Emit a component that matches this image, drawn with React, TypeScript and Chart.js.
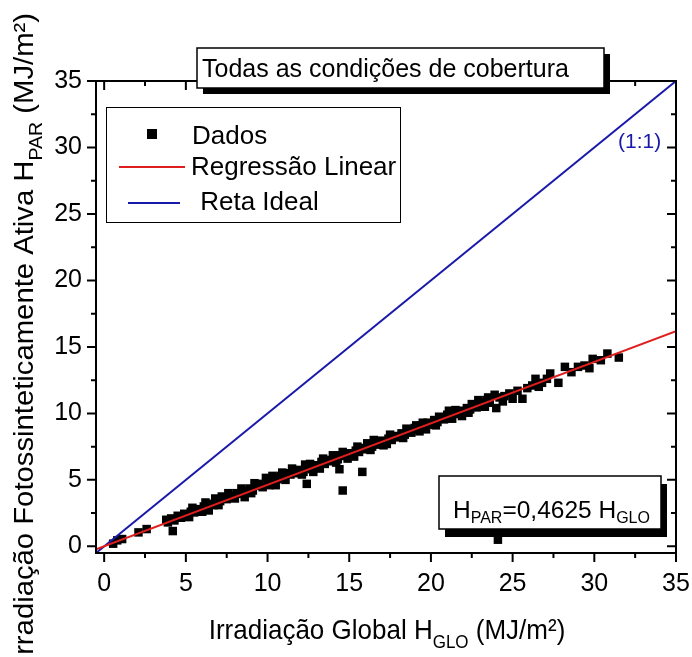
import { useEffect, useRef } from "react";
import { Chart, registerables } from "chart.js";

Chart.register(...registerables);

const FONT = '"Liberation Sans", Arial, sans-serif';

const AXIS_MIN = -0.5;
const AXIS_MAX = 35;
const TICK_VALUES = [0, 2.5, 5, 7.5, 10, 12.5, 15, 17.5, 20, 22.5, 25, 27.5, 30, 32.5, 35];
const MAJOR_STEP = 5;
const SLOPE = 0.4625;

const dataX = [
  0.55, 0.8, 1.1, 2.1, 2.6, 4.2,
  3.8, 3.9, 4.1, 4.3, 4.5, 4.7, 4.9, 5.1, 5.2, 5.3, 5.5, 5.7, 5.9, 6.0, 6.1, 6.3, 6.5, 6.7, 6.9, 7.0,
  7.1, 7.2, 7.3, 7.5, 7.7, 7.9, 8.0, 8.1, 8.3, 8.5, 8.7, 8.9, 9.0, 9.1, 9.3, 9.5, 9.7, 9.9, 10.0,
  10.1, 10.2, 10.4, 10.6, 10.8, 11.0, 11.1, 11.2, 11.4, 11.6, 11.8, 12.0, 12.1, 12.2, 12.3, 12.5,
  12.7, 12.9, 13.1, 13.2, 13.3, 13.5, 13.7, 13.9, 14.0, 14.1, 14.2, 14.3, 14.5, 14.8, 15.0, 15.2,
  15.3, 15.4, 15.6, 15.8, 16.0, 16.1, 16.2, 16.3, 16.4, 16.6, 16.8, 17.0, 17.2, 17.3, 17.4, 17.6,
  17.8, 18.0, 18.2, 18.3, 18.4, 18.6, 18.8, 19.0, 19.1, 19.2, 19.3, 19.4, 19.6, 19.8, 20.0, 20.2,
  20.3, 20.4, 20.6, 20.8, 21.0, 21.1, 21.2, 21.3, 21.4, 21.6, 21.8, 22.0, 22.2, 22.3, 22.4, 22.6,
  22.8, 22.9, 23.0, 23.2, 23.3, 23.4, 23.6, 23.9, 24.0, 24.2, 24.5, 24.8, 25.0, 25.3, 25.6, 25.9,
  26.2, 26.4, 26.8, 27.1, 27.3, 27.8, 28.2, 28.6, 29.0, 29.4, 29.7, 29.9, 30.4, 30.8, 31.5,
  5.4, 6.2, 6.8, 7.6, 8.4, 9.2, 10.3, 10.9, 11.5, 12.6, 13.4, 14.6, 15.5, 16.5, 17.5, 18.5, 19.5,
  20.5, 21.5, 22.5, 23.5,
  6.4, 8.6, 10.5, 12.8, 14.9, 17.1, 19.7, 21.9, 24.4, 26.6,
  12.4, 14.4, 14.6, 15.8, 24.1,
];

const dataY = [
  0.2, 0.45, 0.55, 1.05, 1.3, 1.15,
  2.0, 1.8, 2.1, 1.95, 2.3, 2.15, 2.45, 2.35, 2.2, 2.6, 2.55, 2.8, 2.7, 2.6, 3.0, 2.95, 3.2, 3.1, 3.45, 3.1,
  3.4, 3.75, 3.6, 3.55, 3.8, 3.7, 3.6, 4.0, 3.95, 4.15, 4.05, 4.35, 4.0, 4.2, 4.55, 4.7, 4.45, 5.15, 4.95,
  4.6, 4.9, 5.15, 5.05, 5.3, 5.2, 5.0, 5.5, 5.4, 5.6, 5.5, 5.75, 5.4, 5.6, 6.15, 5.95,
  5.8, 6.1, 6.0, 5.85, 6.35, 6.2, 6.5, 6.4, 6.85, 6.7, 6.3, 6.55, 6.85, 6.8, 7.0, 6.9,
  6.75, 7.2, 7.1, 7.4, 7.3, 7.75, 7.6, 7.25, 7.5, 7.8, 7.65, 7.95, 7.85, 7.7, 8.1, 8.0,
  8.3, 8.2, 8.5, 8.15, 8.4, 8.7, 8.55, 8.9, 9.1, 8.8, 8.65, 9.1, 9.0, 9.3, 9.15, 9.5,
  9.1, 9.35, 9.7, 9.55, 9.9, 10.2, 9.75, 9.6, 10.05, 9.95, 10.2, 10.1, 10.4, 10.05, 10.3, 10.6,
  10.45, 11.0, 10.8, 10.65, 10.5, 11.0, 10.8, 11.4, 10.4, 11.2, 11.3, 11.5, 11.1, 11.7, 11.1, 11.9,
  12.1, 12.6, 12.3, 12.6, 13.0, 12.3, 13.5, 13.1, 13.5, 13.6, 13.4, 14.1, 14.0, 14.5, 14.2,
  2.9, 3.3, 3.6, 4.0, 4.35, 4.75, 5.3, 5.55, 5.85, 6.2, 6.6, 7.1, 7.5, 8.0, 8.4, 8.85, 9.3,
  9.75, 10.25, 10.7, 11.2,
  2.7, 3.7, 4.6, 5.6, 6.6, 7.6, 8.8, 9.8, 10.9, 12.0,
  4.7, 5.8, 4.2, 5.6, 0.5,
];

const LEGEND_LABELS = ["Dados", "Regressão Linear", " Reta Ideal"];
const CHART_TITLE = "Todas as condições de cobertura";
const EQ_SEGMENTS = [
  { text: "H", sub: false },
  { text: "PAR", sub: true },
  { text: "=0,4625 H", sub: false },
  { text: "GLO", sub: true },
];
const X_TITLE = [
  { text: "Irradiação Global H", sub: false },
  { text: "GLO", sub: true },
  { text: " (MJ/m²)", sub: false },
];
const Y_TITLE = [
  { text: "Irradiação Fotossinteticamente Ativa H", sub: false },
  { text: "PAR", sub: true },
  { text: " (MJ/m²)", sub: false },
];
const IDEAL_LABEL = "(1:1)";

const RED = "rgb(225,30,30)";
const BLUE = "rgb(25,25,170)";

type Seg = { text: string; sub: boolean };

function richWidth(ctx: CanvasRenderingContext2D, segs: Seg[], size: number, subSize: number) {
  let w = 0;
  for (const s of segs) {
    ctx.font = `${s.sub ? subSize : size}px ${FONT}`;
    w += ctx.measureText(s.text).width;
  }
  return w;
}

function drawRich(
  ctx: CanvasRenderingContext2D,
  segs: Seg[],
  x: number,
  y: number,
  size: number,
  subSize: number,
  subDy: number
) {
  let cx = x;
  ctx.textBaseline = "alphabetic";
  ctx.textAlign = "left";
  for (const s of segs) {
    ctx.font = `${s.sub ? subSize : size}px ${FONT}`;
    ctx.fillText(s.text, cx, y + (s.sub ? subDy : 0));
    cx += ctx.measureText(s.text).width;
  }
}

function shadowBox(ctx: CanvasRenderingContext2D, x: number, y: number, w: number, h: number, dx: number, dy: number) {
  ctx.fillStyle = "#000";
  ctx.fillRect(x + dx, y + dy, w, h);
  ctx.fillStyle = "#fff";
  ctx.fillRect(x, y, w, h);
  ctx.strokeStyle = "#000";
  ctx.lineWidth = 1.5;
  ctx.strokeRect(x, y, w, h);
}

const decorPlugin = {
  id: "decor",
  afterDatasetsDraw(chart: any) {
    const { ctx, chartArea: a, scales } = chart;
    const xs = scales.x;
    const ys = scales.y;
    ctx.save();
    ctx.strokeStyle = "#000";
    ctx.lineWidth = 2;
    ctx.strokeRect(a.left, a.top, a.right - a.left, a.bottom - a.top);
    ctx.beginPath();
    for (const v of TICK_VALUES) {
      const len = v % MAJOR_STEP === 0 ? 9 : 5;
      const px = xs.getPixelForValue(v);
      ctx.moveTo(px, a.bottom);
      ctx.lineTo(px, a.bottom + len);
      ctx.moveTo(px, a.top);
      ctx.lineTo(px, a.top + len);
      const py = ys.getPixelForValue(v);
      ctx.moveTo(a.left - len, py);
      ctx.lineTo(a.left, py);
      ctx.moveTo(a.right - len, py);
      ctx.lineTo(a.right, py);
    }
    ctx.stroke();
    ctx.restore();
  },
  afterDraw(chart: any) {
    const { ctx } = chart;
    ctx.save();

    // (1:1) label
    ctx.fillStyle = BLUE;
    ctx.font = `21px ${FONT}`;
    ctx.textAlign = "left";
    ctx.textBaseline = "middle";
    ctx.fillText(IDEAL_LABEL, 618, 142);

    // title box
    shadowBox(ctx, 197, 48, 407, 40, 6, 6);
    ctx.fillStyle = "#000";
    ctx.font = `25px ${FONT}`;
    ctx.textAlign = "left";
    ctx.textBaseline = "alphabetic";
    ctx.fillText(CHART_TITLE, 202, 77);

    // legend
    ctx.fillStyle = "#fff";
    ctx.fillRect(106, 107, 294, 115);
    ctx.strokeStyle = "#000";
    ctx.lineWidth = 1;
    ctx.strokeRect(106.5, 107.5, 294, 115);
    ctx.fillStyle = "#000";
    ctx.fillRect(147, 129, 10, 10);
    ctx.lineWidth = 2;
    ctx.strokeStyle = RED;
    ctx.beginPath();
    ctx.moveTo(119, 167);
    ctx.lineTo(185, 167);
    ctx.stroke();
    ctx.strokeStyle = BLUE;
    ctx.beginPath();
    ctx.moveTo(128, 203);
    ctx.lineTo(180, 203);
    ctx.stroke();
    ctx.fillStyle = "#000";
    ctx.font = `26px ${FONT}`;
    ctx.textBaseline = "alphabetic";
    ctx.fillText(LEGEND_LABELS[0], 192, 144);
    ctx.fillText(LEGEND_LABELS[1], 191, 175);
    ctx.fillText(LEGEND_LABELS[2], 193, 210);

    // equation box
    shadowBox(ctx, 439, 476, 222, 53, 6, 8);
    ctx.fillStyle = "#000";
    drawRich(ctx, EQ_SEGMENTS, 453, 518, 24.5, 16, 5);

    // x title
    const xw = richWidth(ctx, X_TITLE, 26, 17);
    ctx.save();
    ctx.translate(387 - xw / 2, 639);
    ctx.scale(1, 1.08);
    drawRich(ctx, X_TITLE, 0, 0, 26, 17, 8);
    ctx.restore();

    // y title
    ctx.save();
    ctx.translate(33, 338);
    ctx.rotate(-Math.PI / 2);
    const yw = richWidth(ctx, Y_TITLE, 27, 18);
    const sx = 650 / yw;
    ctx.scale(sx, 1);
    drawRich(ctx, Y_TITLE, -yw / 2, 0, 27, 18, 9);
    ctx.restore();

    ctx.restore();
  },
};

export default function App() {
  const canvasRef = useRef<HTMLCanvasElement | null>(null);

  useEffect(() => {
    if (!canvasRef.current) return;
    const points = dataX.map((x, i) => ({ x, y: dataY[i] }));
    const chart = new Chart(canvasRef.current, {
      type: "scatter",
      data: {
        datasets: [
          {
            label: "Regressão Linear",
            data: [
              { x: AXIS_MIN, y: SLOPE * AXIS_MIN },
              { x: AXIS_MAX, y: SLOPE * AXIS_MAX },
            ],
            showLine: true,
            borderColor: RED,
            borderWidth: 2,
            pointRadius: 0,
            order: 0,
          },
          {
            label: "Reta Ideal",
            data: [
              { x: AXIS_MIN, y: AXIS_MIN },
              { x: AXIS_MAX, y: AXIS_MAX },
            ],
            showLine: true,
            borderColor: BLUE,
            borderWidth: 2,
            pointRadius: 0,
            order: 1,
          },
          {
            label: "Dados",
            data: points,
            pointStyle: "rect",
            pointRadius: 6,
            pointBackgroundColor: "#000",
            pointBorderWidth: 0,
            borderColor: "#000",
            order: 2,
          },
        ],
      },
      options: {
        animation: false,
        responsive: false,
        layout: { padding: { left: 0, top: 81, right: 16, bottom: 0 } },
        plugins: {
          legend: { display: false },
          tooltip: { enabled: false },
        },
        scales: {
          x: {
            type: "linear",
            min: AXIS_MIN,
            max: AXIS_MAX,
            afterFit: (s: any) => {
              s.height = 104;
              s.paddingLeft = 0;
              s.paddingRight = 0;
            },
            grid: { display: false, drawTicks: false },
            border: { display: false },
            ticks: {
              stepSize: 2.5,
              includeBounds: false,
              padding: 16,
              color: "#000",
              font: { family: FONT, size: 25 },
              maxRotation: 0,
              autoSkip: false,
              callback: (v: any) => (Number(v) % MAJOR_STEP === 0 ? String(v) : ""),
            },
          },
          y: {
            type: "linear",
            min: AXIS_MIN,
            max: AXIS_MAX,
            afterFit: (s: any) => {
              s.width = 96;
              s.paddingTop = 0;
              s.paddingBottom = 0;
            },
            grid: { display: false, drawTicks: false },
            border: { display: false },
            ticks: {
              stepSize: 2.5,
              includeBounds: false,
              padding: 14,
              color: "#000",
              font: { family: FONT, size: 25 },
              autoSkip: false,
              callback: (v: any) => (Number(v) % MAJOR_STEP === 0 ? String(v) : ""),
            },
          },
        },
      },
      plugins: [decorPlugin],
    });
    return () => chart.destroy();
  }, []);

  return (
    <div style={{ position: "fixed", left: 0, top: 0, width: 692, height: 657, background: "#fff" }}>
      <canvas ref={canvasRef} width={692} height={657} style={{ width: 692, height: 657, display: "block" }} />
    </div>
  );
}
